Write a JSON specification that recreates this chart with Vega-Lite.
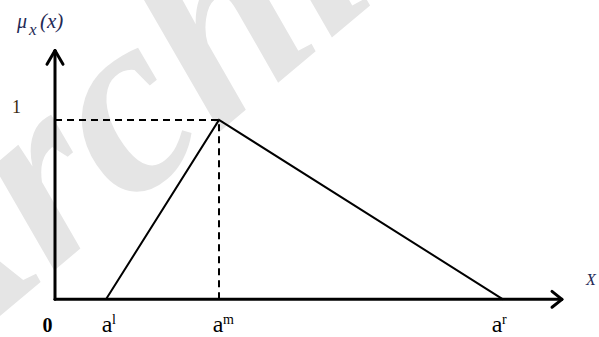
{
  "$schema": "https://vega.github.io/schema/vega-lite/v6.json",
  "autosize": {"type": "fit", "contains": "padding"},
  "width": 599,
  "height": 337,
  "padding": 0,
  "background": "white",
  "config": {"view": {"stroke": null}},
  "datasets": {
    "watermark": [{"x": 133, "y": 1.354, "t": "Archive"}],
    "segments": [
      {"name": "yaxis", "x": 0, "y": 0, "x2": 0, "y2": 1.385},
      {"name": "xaxis", "x": 0, "y": 0, "x2": 506, "y2": 0},
      {"name": "yhead_l", "x": -8, "y": 1.31, "x2": 0, "y2": 1.387},
      {"name": "yhead_r", "x": 8, "y": 1.31, "x2": 0, "y2": 1.387},
      {"name": "xhead_t", "x": 497, "y": 0.044, "x2": 507, "y2": 0},
      {"name": "xhead_b", "x": 497, "y": -0.044, "x2": 507, "y2": 0}
    ],
    "triangle": [
      {"x": 51, "y": 0},
      {"x": 164, "y": 1},
      {"x": 448, "y": 0}
    ],
    "dashed": [
      {"name": "h", "x": 0, "y": 1, "x2": 164, "y2": 1},
      {"name": "v", "x": 164, "y": 0, "x2": 164, "y2": 1}
    ],
    "alabels": [
      {"x": 52, "y": -0.18, "base": "a", "sup": "l"},
      {"x": 163, "y": -0.18, "base": "a", "sup": "m"},
      {"x": 442, "y": -0.18, "base": "a", "sup": "r"}
    ],
    "mulabel": [
      {"x": -38, "y": 1.514, "t": "μ", "size": 20},
      {"x": -26, "y": 1.475, "t": "x", "size": 17},
      {"x": -15, "y": 1.514, "t": "(x)", "size": 21}
    ]
  },
  "layer": [
    {
      "data": {"name": "watermark"},
      "mark": {"type": "text", "align": "center", "baseline": "middle", "angle": -40, "fontSize": 260, "font": "Liberation Serif", "fontWeight": "bold", "fontStyle": "italic", "color": "#e5e5e5", "clip": true},
      "encoding": {
        "x": {"field": "x", "type": "quantitative", "scale": {"domain": [-55, 544], "nice": false, "zero": false}, "axis": null},
        "y": {"field": "y", "type": "quantitative", "scale": {"domain": [-0.1934, 1.6685], "nice": false, "zero": false}, "axis": null},
        "text": {"field": "t"}
      }
    },
    {
      "data": {"name": "segments"},
      "mark": {"type": "rule", "strokeWidth": 3, "color": "black", "strokeCap": "round"},
      "encoding": {
        "x": {"field": "x", "type": "quantitative"},
        "y": {"field": "y", "type": "quantitative"},
        "x2": {"field": "x2"},
        "y2": {"field": "y2"}
      }
    },
    {
      "data": {"name": "dashed"},
      "mark": {"type": "rule", "strokeWidth": 2, "color": "black", "strokeDash": [7, 5]},
      "encoding": {
        "x": {"field": "x", "type": "quantitative"},
        "y": {"field": "y", "type": "quantitative"},
        "x2": {"field": "x2"},
        "y2": {"field": "y2"}
      }
    },
    {
      "data": {"name": "triangle"},
      "mark": {"type": "line", "strokeWidth": 2, "color": "black"},
      "encoding": {
        "x": {"field": "x", "type": "quantitative"},
        "y": {"field": "y", "type": "quantitative"}
      }
    },
    {
      "data": {"name": "mulabel"},
      "mark": {"type": "text", "align": "left", "baseline": "alphabetic", "font": "Liberation Serif", "fontStyle": "italic", "color": "#1f2a55"},
      "encoding": {
        "x": {"field": "x", "type": "quantitative"},
        "y": {"field": "y", "type": "quantitative"},
        "text": {"field": "t"},
        "size": {"field": "size", "type": "quantitative", "scale": null}
      }
    },
    {
      "data": {"values": [{"x": -38.5, "y": 1.066, "t": "1"}]},
      "mark": {"type": "text", "align": "center", "baseline": "middle", "fontSize": 18, "font": "Liberation Serif", "color": "#3a2a12"},
      "encoding": {
        "x": {"field": "x", "type": "quantitative"},
        "y": {"field": "y", "type": "quantitative"},
        "text": {"field": "t"}
      }
    },
    {
      "data": {"values": [{"x": 536, "y": 0.077, "t": "X"}]},
      "mark": {"type": "text", "align": "center", "baseline": "alphabetic", "fontSize": 16, "font": "Liberation Serif", "fontStyle": "italic", "color": "#1f2a55"},
      "encoding": {
        "x": {"field": "x", "type": "quantitative"},
        "y": {"field": "y", "type": "quantitative"},
        "text": {"field": "t"}
      }
    },
    {
      "data": {"values": [{"x": -7.5, "y": -0.18, "t": "0"}]},
      "mark": {"type": "text", "align": "center", "baseline": "alphabetic", "fontSize": 20, "font": "Liberation Serif", "fontWeight": "bold", "color": "black"},
      "encoding": {
        "x": {"field": "x", "type": "quantitative"},
        "y": {"field": "y", "type": "quantitative"},
        "text": {"field": "t"}
      }
    },
    {
      "data": {"name": "alabels"},
      "mark": {"type": "text", "align": "center", "baseline": "alphabetic", "fontSize": 24, "font": "Liberation Serif", "color": "black"},
      "encoding": {
        "x": {"field": "x", "type": "quantitative"},
        "y": {"field": "y", "type": "quantitative"},
        "text": {"field": "base"}
      }
    },
    {
      "data": {"name": "alabels"},
      "mark": {"type": "text", "align": "left", "baseline": "alphabetic", "fontSize": 14, "font": "Liberation Serif", "color": "black", "dx": 5, "dy": -8},
      "encoding": {
        "x": {"field": "x", "type": "quantitative"},
        "y": {"field": "y", "type": "quantitative"},
        "text": {"field": "sup"}
      }
    }
  ]
}
